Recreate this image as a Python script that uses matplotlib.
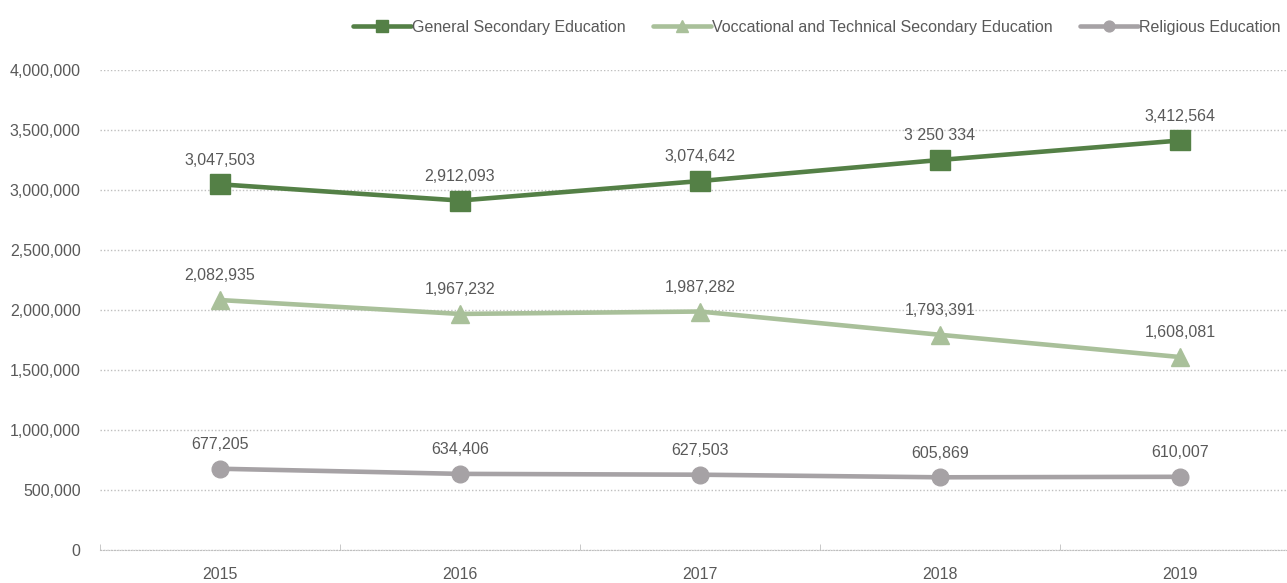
import matplotlib.pyplot as plt
from matplotlib.ticker import FuncFormatter

years = ['2015', '2016', '2017', '2018', '2019']
general = [3047503, 2912093, 3074642, 3250334, 3412564]
vocational = [2082935, 1967232, 1987282, 1793391, 1608081]
religious = [677205, 634406, 627503, 605869, 610007]
general_labels = ['3,047,503', '2,912,093', '3,074,642', '3 250 334', '3,412,564']

plt.rcParams['font.family'] = ['Liberation Sans Narrow', 'Liberation Sans', 'DejaVu Sans']

fig = plt.figure(figsize=(12.87, 5.83), dpi=100)
ax = fig.add_axes([100 / 1287, 33 / 583, 1187 / 1287, 480 / 583])

x = list(range(len(years)))
series = [
    (general, 'General Secondary Education', '#548046', 's', 14, general_labels),
    (vocational, 'Voccational and Technical Secondary Education', '#A9C09A', '^', 13, None),
    (religious, 'Religious Education', '#A6A2A5', 'o', 12, None),
]

for vals, name, col, mk, ms, labs in series:
    ax.plot(x, vals, color=col, lw=3.3, marker=mk, markersize=ms, label=name,
            solid_capstyle='round')
    for i, v in enumerate(vals):
        txt = labs[i] if labs else f'{v:,}'
        ax.annotate(txt, (i, v), xytext=(0, 12), textcoords='offset points',
                    ha='center', va='bottom', fontsize=11.5, color='#595959')

ax.set_xlim(-0.5, 4.446)
ax.set_ylim(0, 4000000)
ax.set_yticks(range(0, 4000001, 500000))
ax.yaxis.set_major_formatter(FuncFormatter(lambda v, p: f'{int(v):,}'))
ax.set_xticks(x)
ax.set_xticklabels(years)
ax.set_xticks([-0.5, 0.5, 1.5, 2.5, 3.5], minor=True)
ax.tick_params(axis='x', which='major', length=0, pad=12, labelsize=11.5, labelcolor='#595959')
ax.tick_params(axis='x', which='minor', length=4, color='#BFBFBF', direction='in')
ax.tick_params(axis='y', length=0, pad=14, labelsize=11.5, labelcolor='#595959')

ax.grid(axis='y', color='#BFBFBF', linestyle=(0, (1, 1.5)), lw=1)
ax.set_axisbelow(True)
for s in ['top', 'right', 'left']:
    ax.spines[s].set_visible(False)
ax.spines['bottom'].set_color('#BFBFBF')
ax.spines['bottom'].set_linestyle((0, (1, 1.5)))

ax.legend(loc='lower right', bbox_to_anchor=(1.0, 1.06), ncol=3, frameon=False,
          fontsize=11.5, labelcolor='#595959', handlelength=3.6, handletextpad=0.1,
          columnspacing=1.7, markerscale=0.65, borderaxespad=0)

fig.savefig('out.png', dpi=100)
